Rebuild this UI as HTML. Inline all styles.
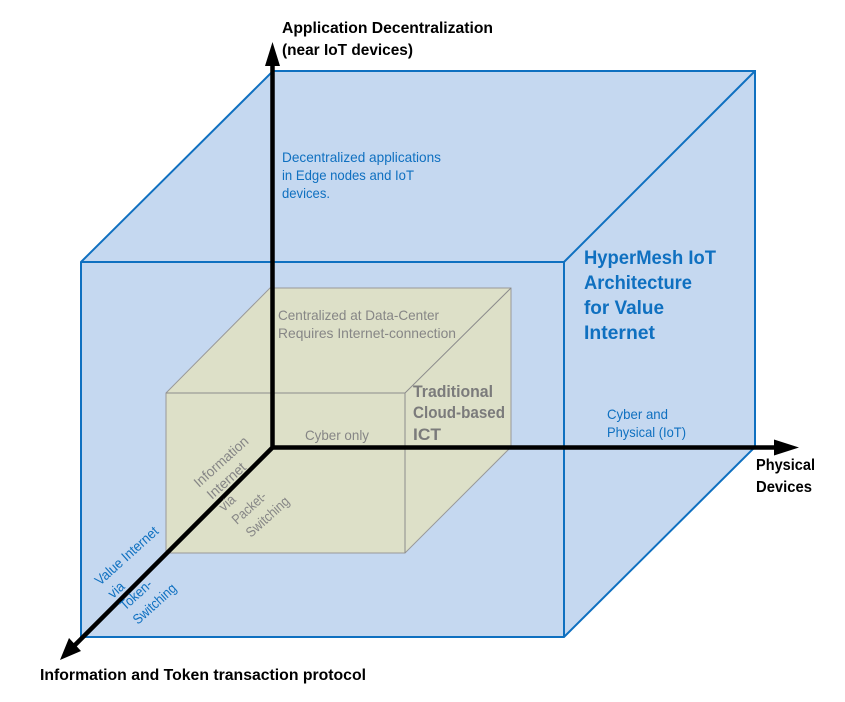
<!DOCTYPE html>
<html>
<head>
<meta charset="utf-8">
<style>
html,body{margin:0;padding:0;background:#fff;width:845px;height:702px;overflow:hidden}
svg{display:block;filter:blur(.3px)}
text{font-family:"Liberation Sans",sans-serif}
.k{fill:#000;font-weight:bold;font-size:16px}
.b{fill:#0f70c0;font-size:14px}
.h{fill:#0f70c0;font-weight:bold;font-size:19px}
.g{fill:#868686;font-size:14px}
.t{fill:#7b7b7b;font-weight:bold;font-size:17px}
</style>
</head>
<body>
<svg width="845" height="702" viewBox="0 0 845 702" xmlns="http://www.w3.org/2000/svg">
<rect width="845" height="702" fill="#fff"/>
<!-- outer cube -->
<polygon points="81,262 273,71 755,71 755,447 564,637 81,637" fill="#c5d8f0" stroke="#0f70c0" stroke-width="2"/>
<path d="M81,262H564V637M564,262L755,71" fill="none" stroke="#0f70c0" stroke-width="2"/>
<!-- inner cube -->
<polygon points="166,393 270,288 511,288 511,447 405,553 166,553" fill="#dde0c8" stroke="#999" stroke-width="1"/>
<path d="M166,393H405V553M405,393L511,288" fill="none" stroke="#8c8c8c" stroke-width="1"/>
<!-- axes -->
<path d="M272.500,64V447.500H776M272.500,447.500L75,645" fill="none" stroke="#000" stroke-width="4.500" stroke-linejoin="miter"/>
<polygon points="272.500,42 280,66 265,66" fill="#000"/>
<polygon points="799,447.500 774,439.500 774,455.500" fill="#000"/>
<polygon points="60,660 69,638 81,651" fill="#000"/>
<!-- labels -->
<text class="k" x="282" y="33" textLength="211" lengthAdjust="spacingAndGlyphs">Application Decentralization</text>
<text class="k" x="282" y="55" textLength="131" lengthAdjust="spacingAndGlyphs">(near IoT devices)</text>
<text class="k" x="756" y="470" textLength="59" lengthAdjust="spacingAndGlyphs">Physical</text>
<text class="k" x="756" y="492" textLength="56" lengthAdjust="spacingAndGlyphs">Devices</text>
<text class="k" x="40" y="680" textLength="326" lengthAdjust="spacingAndGlyphs">Information and Token transaction protocol</text>
<text class="b" x="282" y="162" textLength="159" lengthAdjust="spacingAndGlyphs">Decentralized applications</text>
<text class="b" x="282" y="180" textLength="132" lengthAdjust="spacingAndGlyphs">in Edge nodes and IoT</text>
<text class="b" x="282" y="198" textLength="48" lengthAdjust="spacingAndGlyphs">devices.</text>
<text class="h" x="584" y="264" textLength="132" lengthAdjust="spacingAndGlyphs">HyperMesh IoT</text>
<text class="h" x="584" y="289" textLength="108" lengthAdjust="spacingAndGlyphs">Architecture</text>
<text class="h" x="584" y="314" textLength="80" lengthAdjust="spacingAndGlyphs">for Value</text>
<text class="h" x="584" y="339" textLength="71" lengthAdjust="spacingAndGlyphs">Internet</text>
<text class="b" x="607" y="419" textLength="61" lengthAdjust="spacingAndGlyphs">Cyber and</text>
<text class="b" x="607" y="437" textLength="79" lengthAdjust="spacingAndGlyphs">Physical (IoT)</text>
<text class="g" x="278" y="320" textLength="161" lengthAdjust="spacingAndGlyphs">Centralized at Data-Center</text>
<text class="g" x="278" y="338" textLength="178" lengthAdjust="spacingAndGlyphs">Requires Internet-connection</text>
<text class="t" x="413" y="397" textLength="80" lengthAdjust="spacingAndGlyphs">Traditional</text>
<text class="t" x="413" y="418" textLength="92" lengthAdjust="spacingAndGlyphs">Cloud-based</text>
<text class="t" x="413" y="440" textLength="28" lengthAdjust="spacingAndGlyphs">ICT</text>
<text class="g" x="305" y="440" textLength="64" lengthAdjust="spacingAndGlyphs">Cyber only</text>
<!-- rotated gray -->
<text class="g" transform="translate(199,488) rotate(-42)" textLength="68" lengthAdjust="spacingAndGlyphs">Information</text>
<text class="g" transform="translate(212,500) rotate(-42)" textLength="47" lengthAdjust="spacingAndGlyphs">Internet</text>
<text class="g" transform="translate(224,512) rotate(-42)" textLength="17" lengthAdjust="spacingAndGlyphs">via</text>
<text class="g" transform="translate(237,525) rotate(-42)" textLength="41" lengthAdjust="spacingAndGlyphs">Packet-</text>
<text class="g" transform="translate(251,538) rotate(-42)" textLength="53" lengthAdjust="spacingAndGlyphs">Switching</text>
<!-- rotated blue -->
<text class="b" transform="translate(100,586) rotate(-42)" textLength="80" lengthAdjust="spacingAndGlyphs">Value Internet</text>
<text class="b" transform="translate(113,599) rotate(-42)" textLength="17" lengthAdjust="spacingAndGlyphs">via</text>
<text class="b" transform="translate(125,611) rotate(-42)" textLength="38" lengthAdjust="spacingAndGlyphs">Token-</text>
<text class="b" transform="translate(138,625) rotate(-42)" textLength="53" lengthAdjust="spacingAndGlyphs">Switching</text>
</svg>
</body>
</html>
